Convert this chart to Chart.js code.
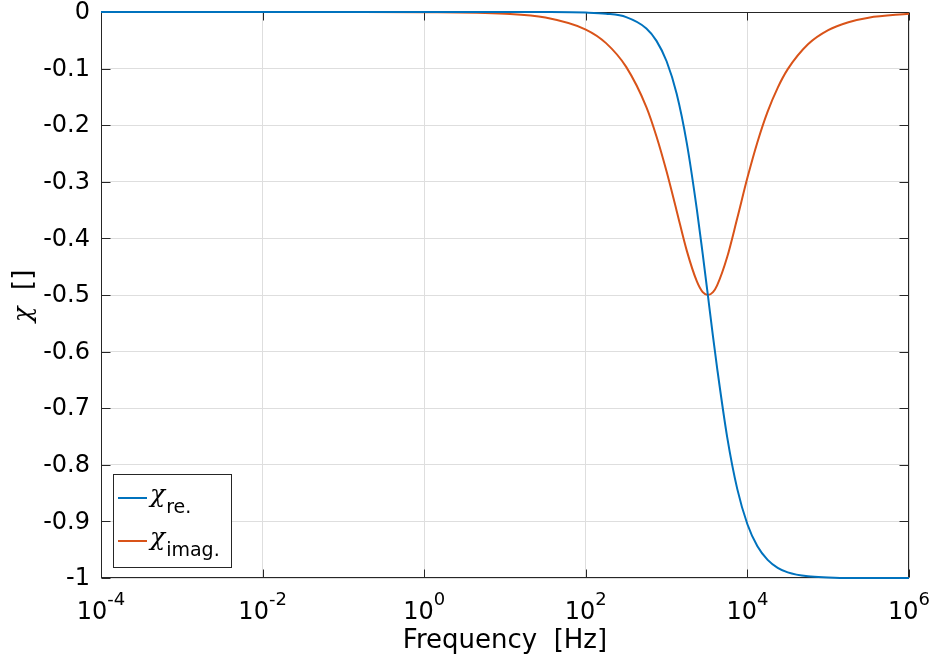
<!DOCTYPE html>
<html lang="en">

<head>
    <meta charset="utf-8">
    <title>Susceptibility vs frequency</title>
    <script src="https://cdn.jsdelivr.net/npm/chart.js@4.4.0/dist/chart.umd.min.js"></script>
    <style>
        body { margin: 0; background: #fff; }
        #wrap { width: 934px; height: 663px; }
    </style>
</head>

<body>
    <div id="wrap">
        <canvas id="myChart" width="934" height="663"></canvas>
    </div>
    <script>
        // frequency points (Hz)
        const freq = [1e-4, 1e-3, 1e-2, 1e-1, 1, 10, 31.6, 100, 178, 316, 562, 750, 1000, 1330, 1780, 2370, 2800,
            3240, 3750, 4220, 5620, 7500, 10000, 13300, 17800, 23700, 31600, 56200, 100000, 178000, 316000, 1000000];
        // real part (blue)
        const chiRe = [0, 0, 0, 0, 0, 0, -0.0001, -0.001, -0.003, -0.009, -0.029, -0.051, -0.087, -0.144, -0.232, -0.349, -0.428,
            -0.5, -0.573, -0.629, -0.751, -0.843, -0.905, -0.944, -0.968, -0.982, -0.990, -0.997, -0.999, -1, -1, -1];
        // imaginary part (orange)
        const chiIm = [0, 0, 0, 0, -0.0003, -0.003, -0.0098, -0.031, -0.055, -0.097, -0.168, -0.220, -0.282, -0.351, -0.422, -0.476, -0.495,
            -0.5, -0.495, -0.483, -0.433, -0.364, -0.293, -0.230, -0.176, -0.134, -0.101, -0.057, -0.032, -0.018, -0.010, -0.003];

        const xTicks = [1e-4, 1e-2, 1, 1e2, 1e4, 1e6];
        const seriesNames = [{ sym: "\u03C7", sub: "re." }, { sym: "\u03C7", sub: "imag." }];
        const colors = ["#0072BD", "#D95319"];

        const axisColor = "#262626";
        const sans = "'DejaVu Sans', sans-serif";
        const serif = "'DejaVu Serif', serif";

        // box, inward ticks, tick labels, axis titles, legend
        const decor = {
            id: 'decor',
            beforeDatasetsDraw(chart) {
                const { ctx, chartArea: a, scales } = chart;
                const L = Math.round(a.left) + 0.5, R = Math.round(a.right) - 0.5;
                const T = Math.round(a.top) + 0.5, B = Math.round(a.bottom) - 0.5;
                ctx.save();
                ctx.strokeStyle = axisColor;
                ctx.lineWidth = 1;
                ctx.strokeRect(L, T, R - L, B - T);
                ctx.beginPath();
                scales.y.ticks.forEach(t => {
                    const py = Math.round(scales.y.getPixelForValue(t.value)) + 0.5;
                    ctx.moveTo(L, py); ctx.lineTo(L + 9, py);
                    ctx.moveTo(R, py); ctx.lineTo(R - 9, py);
                });
                scales.x.ticks.forEach(t => {
                    const px = Math.round(scales.x.getPixelForValue(t.value)) + 0.5;
                    ctx.moveTo(px, B); ctx.lineTo(px, B - 8);
                    ctx.moveTo(px, T); ctx.lineTo(px, T + 8);
                });
                ctx.stroke();
                ctx.restore();
            },
            afterDatasetsDraw(chart) {
                const { ctx, chartArea: a, scales } = chart;
                ctx.save();
                ctx.fillStyle = "#000";

                // y tick labels
                ctx.font = "24px " + sans;
                ctx.textAlign = "right";
                ctx.textBaseline = "middle";
                scales.y.ticks.forEach(t => {
                    const v = Math.round(t.value * 10) / 10;
                    ctx.fillText(String(v), a.left - 11, scales.y.getPixelForValue(t.value) + 1);
                });

                // x tick labels 10^n
                ctx.textAlign = "left";
                ctx.textBaseline = "alphabetic";
                scales.x.ticks.forEach(t => {
                    const e = String(Math.round(Math.log10(t.value)));
                    ctx.font = "24px " + sans;
                    const wb = ctx.measureText("10").width;
                    ctx.font = "18px " + sans;
                    const we = ctx.measureText(e).width;
                    const x0 = scales.x.getPixelForValue(t.value) - (wb + we) / 2;
                    ctx.font = "24px " + sans;
                    ctx.fillText("10", x0, 619);
                    ctx.font = "18px " + sans;
                    ctx.fillText(e, x0 + wb, 605);
                });

                // x title
                ctx.font = "26px " + sans;
                ctx.textAlign = "center";
                ctx.fillText("Frequency  [Hz]", (a.left + a.right) / 2, 648);

                // y title, rotated
                ctx.save();
                ctx.translate(31, 296);
                ctx.rotate(-Math.PI / 2);
                ctx.textAlign = "left";
                ctx.font = "italic 26px " + serif;
                const wc = ctx.measureText("\u03C7").width;
                ctx.font = "26px " + sans;
                const wr = ctx.measureText("  []").width;
                const sx = -(wc + wr) / 2;
                ctx.font = "italic 26px " + serif;
                ctx.fillText("\u03C7", sx, 0);
                ctx.font = "26px " + sans;
                ctx.fillText("  []", sx + wc, 0);
                ctx.restore();

                // legend
                const lx = 113.5, ly = 474.5, lw = 118, lh = 93;
                ctx.fillStyle = "#fff";
                ctx.fillRect(lx, ly, lw, lh);
                ctx.strokeStyle = axisColor;
                ctx.lineWidth = 1;
                ctx.strokeRect(lx, ly, lw, lh);
                seriesNames.forEach((s, i) => {
                    const cy = 498 + i * 43;
                    ctx.strokeStyle = colors[i];
                    ctx.lineWidth = 2;
                    ctx.beginPath();
                    ctx.moveTo(118, cy); ctx.lineTo(147, cy);
                    ctx.stroke();
                    ctx.fillStyle = "#000";
                    ctx.textAlign = "left";
                    ctx.font = "italic 25px " + serif;
                    ctx.fillText(s.sym, 150, cy + 4);
                    const w = ctx.measureText(s.sym).width;
                    ctx.font = "19px " + sans;
                    ctx.fillText(s.sub, 150 + w + 1, cy + 15);
                });
                ctx.restore();
            }
        };

        const toPts = ys => freq.map((f, i) => ({ x: f, y: ys[i] }));

        new Chart(document.getElementById("myChart"), {
            type: 'line',
            data: {
                datasets: [
                    { label: "re", data: toPts(chiRe), borderColor: colors[0] },
                    { label: "imag", data: toPts(chiIm), borderColor: colors[1] }
                ]
            },
            options: {
                responsive: false,
                animation: false,
                devicePixelRatio: 1,
                layout: { padding: { left: 101, right: 25, top: 12, bottom: 85 } },
                elements: {
                    point: { radius: 0 },
                    line: { borderWidth: 2, cubicInterpolationMode: 'monotone', fill: false }
                },
                datasets: { line: { clip: 4 } },
                plugins: { legend: { display: false }, tooltip: { enabled: false } },
                scales: {
                    x: {
                        type: 'logarithmic',
                        min: 1e-4,
                        max: 1e6,
                        afterBuildTicks: s => { s.ticks = xTicks.map(v => ({ value: v })); },
                        ticks: { display: false, padding: 0 },
                        grid: { color: "#dedede", drawTicks: false },
                        border: { display: false }
                    },
                    y: {
                        min: -1,
                        max: 0,
                        ticks: { display: false, stepSize: 0.1, padding: 0 },
                        grid: { color: "#dedede", drawTicks: false },
                        border: { display: false }
                    }
                }
            },
            plugins: [decor]
        });
    </script>
</body>

</html>
